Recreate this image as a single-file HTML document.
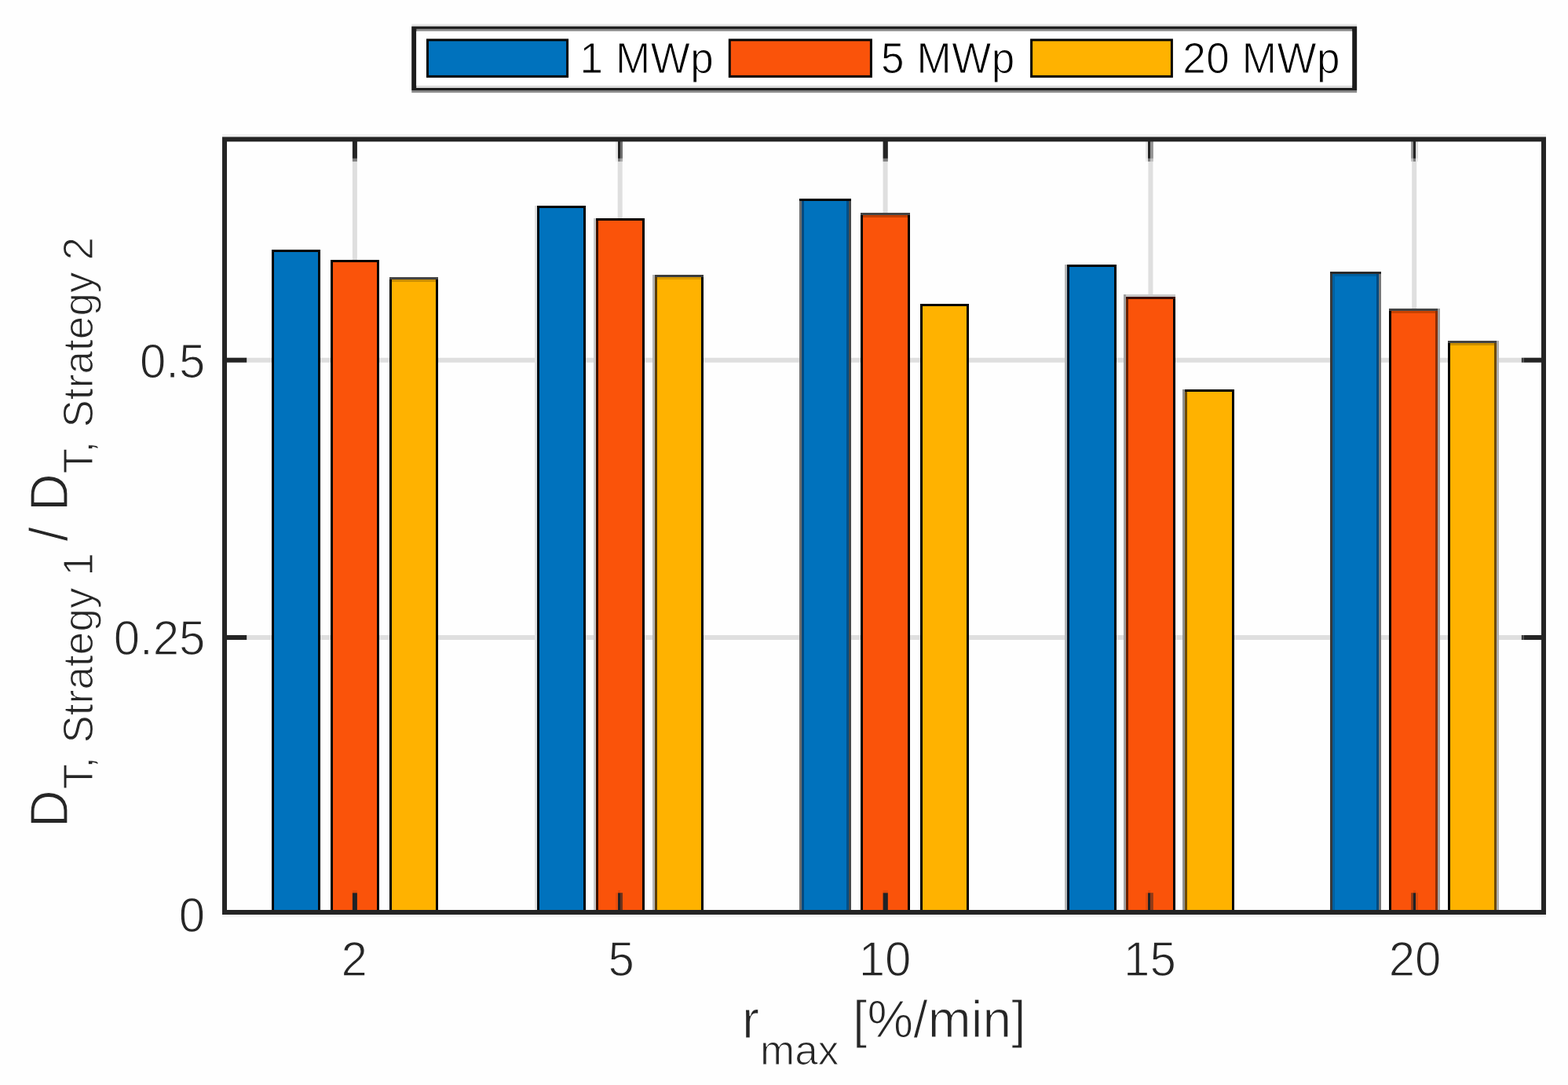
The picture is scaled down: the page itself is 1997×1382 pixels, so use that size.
<!DOCTYPE html>
<html lang="en">
<head>
<meta charset="utf-8">
<title>D_T Strategy 1 / D_T Strategy 2</title>
<style>
html,body{margin:0;padding:0;background:#fefefe;}
body{width:1997px;height:1382px;overflow:hidden;}
svg{display:block;}
text{font-family:"Liberation Sans",Arial,Helvetica,sans-serif;}
text{stroke:#fefefe;stroke-linejoin:round;}
.tk{font-size:60px;fill:#262626;stroke-width:1.2px;}
.lb{font-size:66px;fill:#262626;stroke-width:1.2px;letter-spacing:0.4px;}
.sb{font-size:53px;fill:#262626;stroke-width:1.1px;letter-spacing:0.1px;word-spacing:2.5px;}
.lg{font-size:53px;fill:#000000;stroke:#ffffff;stroke-width:1.0px;letter-spacing:0.6px;}
</style>
</head>
<body>
<svg width="1997" height="1382" viewBox="0 0 1997 1382">
<rect x="0" y="0" width="1997" height="1382" fill="#fefefe"/>
<rect x="283" y="171" width="1686" height="3.4" fill="#f0f0f0"/>
<rect x="283" y="1164.8" width="1686" height="3.4" fill="#f6f6f6"/>
<g stroke="#dfdfdf" stroke-width="6" fill="none">
<line x1="451.9" y1="177.4" x2="451.9" y2="1162.0"/>
<line x1="789.7" y1="177.4" x2="789.7" y2="1162.0"/>
<line x1="1127.6" y1="177.4" x2="1127.6" y2="1162.0"/>
<line x1="1465.4" y1="177.4" x2="1465.4" y2="1162.0"/>
<line x1="1801.2" y1="177.4" x2="1801.2" y2="1162.0"/>
<line x1="286.0" y1="458.7" x2="1966.0" y2="458.7"/>
<line x1="286.0" y1="812.0" x2="1966.0" y2="812.0"/>
</g>
<g>
<rect x="346" y="318" width="62" height="844" fill="#0072bd"/>
<rect x="346" y="318" width="3" height="844" fill="#000000"/>
<rect x="405" y="318" width="3" height="844" fill="#000000"/>
<rect x="346" y="318" width="62" height="3" fill="#000000"/>
</g>
<g>
<rect x="421" y="331" width="62" height="831" fill="#fa530a"/>
<rect x="421" y="331" width="3" height="831" fill="#000000"/>
<rect x="480" y="331" width="3" height="831" fill="#000000"/>
<rect x="421" y="331" width="62" height="3" fill="#000000"/>
</g>
<g>
<rect x="496" y="353" width="62" height="809" fill="#ffb200"/>
<rect x="496" y="353" width="3" height="809" fill="#000000"/>
<rect x="555" y="353" width="3" height="809" fill="#000000"/>
<rect x="496" y="353" width="62" height="3" fill="#444444"/>
<rect x="499" y="356" width="56" height="3" fill="#cc8f00"/>
</g>
<g>
<rect x="684" y="262" width="62" height="900" fill="#0072bd"/>
<rect x="681" y="262" width="3" height="900" fill="#e2e2e2"/>
<rect x="684" y="262" width="3" height="900" fill="#000a14"/>
<rect x="743" y="262" width="3" height="900" fill="#000000"/>
<rect x="684" y="262" width="62" height="3" fill="#000000"/>
</g>
<g>
<rect x="759" y="278" width="62" height="884" fill="#fa530a"/>
<rect x="756" y="278" width="3" height="884" fill="#c8c8c8"/>
<rect x="759" y="278" width="3" height="884" fill="#3c1000"/>
<rect x="818" y="278" width="3" height="884" fill="#000000"/>
<rect x="759" y="278" width="62" height="3" fill="#000000"/>
</g>
<g>
<rect x="834" y="350" width="62" height="812" fill="#ffb200"/>
<rect x="831" y="350" width="3" height="812" fill="#b4b4b4"/>
<rect x="834" y="350" width="3" height="812" fill="#5a3c00"/>
<rect x="893" y="350" width="3" height="812" fill="#000000"/>
<rect x="834" y="350" width="62" height="3" fill="#3c3c3c"/>
<rect x="837" y="353" width="56" height="3" fill="#d89800"/>
</g>
<g>
<rect x="1021" y="253" width="60" height="909" fill="#0072bd"/>
<rect x="1018" y="253" width="3" height="909" fill="#6e6e6e"/>
<rect x="1021" y="253" width="3" height="909" fill="#004a80"/>
<rect x="1081" y="253" width="3" height="909" fill="#4a4a4a"/>
<rect x="1078" y="253" width="3" height="909" fill="#004f88"/>
<rect x="1018" y="253" width="66" height="3" fill="#000000"/>
</g>
<g>
<rect x="1096" y="271" width="63" height="891" fill="#fa530a"/>
<rect x="1096" y="271" width="3" height="891" fill="#000000"/>
<rect x="1156" y="271" width="3" height="891" fill="#000000"/>
<rect x="1096" y="271" width="63" height="3" fill="#444444"/>
<rect x="1099" y="274" width="57" height="3" fill="#c23e00"/>
</g>
<g>
<rect x="1172" y="387" width="62" height="775" fill="#ffb200"/>
<rect x="1172" y="387" width="3" height="775" fill="#000000"/>
<rect x="1231" y="387" width="3" height="775" fill="#000000"/>
<rect x="1172" y="387" width="62" height="3" fill="#000000"/>
</g>
<g>
<rect x="1359" y="337" width="63" height="825" fill="#0072bd"/>
<rect x="1356" y="337" width="3" height="825" fill="#b8b8b8"/>
<rect x="1359" y="337" width="3" height="825" fill="#001428"/>
<rect x="1419" y="337" width="3" height="825" fill="#000000"/>
<rect x="1359" y="337" width="63" height="3" fill="#000000"/>
</g>
<g>
<rect x="1434" y="378" width="63" height="784" fill="#fa530a"/>
<rect x="1431" y="375" width="3" height="787" fill="#a0a0a0"/>
<rect x="1434" y="375" width="3" height="787" fill="#6a2000"/>
<rect x="1494" y="375" width="3" height="787" fill="#000000"/>
<rect x="1434" y="375" width="63" height="3" fill="#c8c8c8"/>
<rect x="1434" y="378" width="63" height="3" fill="#3a0e00"/>
</g>
<g>
<rect x="1509" y="496" width="63" height="666" fill="#ffb200"/>
<rect x="1506" y="496" width="3" height="666" fill="#909090"/>
<rect x="1509" y="496" width="3" height="666" fill="#6e4a00"/>
<rect x="1569" y="496" width="3" height="666" fill="#000000"/>
<rect x="1509" y="496" width="63" height="3" fill="#000000"/>
</g>
<g>
<rect x="1697" y="346" width="59" height="816" fill="#0072bd"/>
<rect x="1694" y="346" width="3" height="816" fill="#3a3a3a"/>
<rect x="1697" y="346" width="3" height="816" fill="#0060a0"/>
<rect x="1756" y="346" width="3" height="816" fill="#787878"/>
<rect x="1753" y="346" width="3" height="816" fill="#004a80"/>
<rect x="1694" y="346" width="65" height="3" fill="#2a2a2a"/>
<rect x="1700" y="349" width="53" height="3" fill="#0060a0"/>
</g>
<g>
<rect x="1769" y="393" width="62" height="769" fill="#fa530a"/>
<rect x="1769" y="393" width="3" height="769" fill="#000000"/>
<rect x="1831" y="393" width="3" height="769" fill="#a0a0a0"/>
<rect x="1828" y="393" width="3" height="769" fill="#8c2e00"/>
<rect x="1769" y="393" width="62" height="3" fill="#444444"/>
<rect x="1772" y="396" width="56" height="3" fill="#c84200"/>
</g>
<g>
<rect x="1844" y="434" width="62" height="728" fill="#ffb200"/>
<rect x="1844" y="434" width="3" height="728" fill="#000000"/>
<rect x="1906" y="434" width="3" height="728" fill="#b0b0b0"/>
<rect x="1903" y="434" width="3" height="728" fill="#6e4a00"/>
<rect x="1844" y="434" width="62" height="3" fill="#444444"/>
<rect x="1847" y="437" width="56" height="3" fill="#cc8f00"/>
</g>
<g>
<rect x="448.9" y="177.4" width="6" height="24.5" fill="#242424"/>
<rect x="448.9" y="201.9" width="6" height="3.8" fill="#7b7b7b"/>
<rect x="448.9" y="1137.2" width="6" height="24.8" fill="#1e2226"/>
<rect x="448.9" y="1134.2" width="6" height="3" fill="#e04d0d"/>
<rect x="784" y="177.4" width="3" height="24.5" fill="#e8e8e8"/>
<rect x="784" y="201.9" width="3" height="3.8" fill="#f1f1f1"/>
<rect x="784" y="1137.2" width="3" height="24.8" fill="#e44e0d"/>
<rect x="787" y="177.4" width="3" height="24.5" fill="#242424"/>
<rect x="787" y="201.9" width="3" height="3.8" fill="#7b7b7b"/>
<rect x="787" y="1137.2" width="3" height="24.8" fill="#1e2226"/>
<rect x="787" y="1134.2" width="3" height="3" fill="#e04d0d"/>
<rect x="790" y="177.4" width="3" height="24.5" fill="#707070"/>
<rect x="790" y="201.9" width="3" height="3.8" fill="#a9a9a9"/>
<rect x="790" y="1137.2" width="3" height="24.8" fill="#6b331c"/>
<rect x="1124.6" y="177.4" width="6.2" height="24.5" fill="#242424"/>
<rect x="1124.6" y="201.9" width="6.2" height="3.8" fill="#7b7b7b"/>
<rect x="1124.6" y="1137.2" width="6.2" height="24.8" fill="#1e2226"/>
<rect x="1124.6" y="1134.2" width="6.2" height="3" fill="#e04d0d"/>
<rect x="1459" y="177.4" width="3" height="24.5" fill="#e4e4e4"/>
<rect x="1459" y="201.9" width="3" height="3.8" fill="#eeeeee"/>
<rect x="1459" y="1137.2" width="3" height="24.8" fill="#e04d0d"/>
<rect x="1462" y="177.4" width="3.2" height="24.5" fill="#242424"/>
<rect x="1462" y="201.9" width="3.2" height="3.8" fill="#7b7b7b"/>
<rect x="1462" y="1137.2" width="3.2" height="24.8" fill="#1e2226"/>
<rect x="1462" y="1134.2" width="3.2" height="3" fill="#e04d0d"/>
<rect x="1465.2" y="177.4" width="3.6" height="24.5" fill="#919191"/>
<rect x="1465.2" y="201.9" width="3.6" height="3.8" fill="#bdbdbd"/>
<rect x="1465.2" y="1137.2" width="3.6" height="24.8" fill="#8c3a18"/>
<rect x="1797.2" y="177.4" width="2.8" height="24.5" fill="#919191"/>
<rect x="1797.2" y="201.9" width="2.8" height="3.8" fill="#bdbdbd"/>
<rect x="1797.2" y="1137.2" width="2.8" height="24.8" fill="#8c3a18"/>
<rect x="1800" y="177.4" width="3.2" height="24.5" fill="#242424"/>
<rect x="1800" y="201.9" width="3.2" height="3.8" fill="#7b7b7b"/>
<rect x="1800" y="1137.2" width="3.2" height="24.8" fill="#1e2226"/>
<rect x="1800" y="1134.2" width="3.2" height="3" fill="#e04d0d"/>
<rect x="1803.2" y="177.4" width="2.8" height="24.5" fill="#dddddd"/>
<rect x="1803.2" y="201.9" width="2.8" height="3.8" fill="#eaeaea"/>
<rect x="1803.2" y="1137.2" width="2.8" height="24.8" fill="#d94c0e"/>
<rect x="286" y="455.7" width="28.2" height="6" fill="#242424"/>
<rect x="1940.6" y="455.7" width="25.4" height="6" fill="#242424"/>
<rect x="1937.8" y="455.7" width="2.8" height="6" fill="#3c3c3c"/>
<rect x="286" y="809" width="28.2" height="6" fill="#242424"/>
<rect x="1940.6" y="809" width="25.4" height="6" fill="#242424"/>
<rect x="1937.8" y="809" width="2.8" height="6" fill="#3c3c3c"/>
</g>
<rect x="286.0" y="177.4" width="1680.0" height="984.6" fill="none" stroke="#242424" stroke-width="6"/>
<text class="tk" transform="translate(451.1 1243.3) scale(1 1.060)" text-anchor="middle">2</text>
<text class="tk" transform="translate(791.1 1243.3) scale(1 1.060)" text-anchor="middle">5</text>
<text class="tk" transform="translate(1127.1 1243.3) scale(1 1.060)" text-anchor="middle">10</text>
<text class="tk" transform="translate(1464.4 1243.3) scale(1 1.060)" text-anchor="middle">15</text>
<text class="tk" transform="translate(1802.0 1243.3) scale(1 1.060)" text-anchor="middle">20</text>
<text class="tk" transform="translate(261.4 481.2) scale(1 1.025)" text-anchor="end">0.5</text>
<text class="tk" transform="translate(261.4 834.2) scale(1 1.060)" text-anchor="end">0.25</text>
<text class="tk" transform="translate(261.2 1187.4) scale(1 1.060)" text-anchor="end">0</text>
<text class="lb" transform="translate(945.0 1321.6) scale(1 1.040)">r</text>
<text class="sb" transform="translate(968.0 1355.8) scale(1 1.020)">max</text>
<text class="lb" transform="translate(1086.0 1321.4) scale(1 1.015)"><tspan letter-spacing="0.1">[%/min]</tspan></text>
<text class="lb" transform="translate(86.3 1054.0) rotate(-90) scale(1 1.040)">D</text>
<text class="sb" transform="translate(117.6 1005.3) rotate(-90) scale(1 1.020)">T, Strategy <tspan dx="-2.5">1</tspan></text>
<text class="lb" transform="translate(86.3 689.5) rotate(-90) scale(1 1.040)">/</text>
<text class="lb" transform="translate(86.3 651.0) rotate(-90) scale(1 1.040)">D</text>
<text class="sb" transform="translate(117.6 603.3) rotate(-90) scale(1 1.020)">T, Strategy <tspan dx="-2.5">2</tspan></text>
<rect x="524.3" y="30.6" width="1203.8" height="87.5" fill="#e6e6e6"/>
<rect x="524.3" y="33.7" width="1203.8" height="84.4" fill="#8c8c8c"/>
<rect x="524.3" y="33.7" width="1203.8" height="81.4" fill="#1c1c1c"/>
<rect x="530.3" y="36.8" width="1191.8" height="75.2" fill="#8c8c8c"/>
<rect x="530.3" y="39.8" width="1191.8" height="72.2" fill="#dcdcdc"/>
<rect x="530.3" y="39.8" width="1191.8" height="69.2" fill="#ffffff"/>
<g stroke="#050505" stroke-width="3">
<rect x="544.5" y="50.9" width="178.1" height="46.5" fill="#0072bd"/>
<rect x="929.3" y="50.9" width="180.1" height="46.5" fill="#fa530a"/>
<rect x="1313.6" y="50.9" width="178.8" height="46.5" fill="#ffb200"/>
</g>
<text class="lg" transform="translate(738.6 93.1) scale(1 1.040)">1 MWp</text>
<text class="lg" transform="translate(1122.0 93.1) scale(1 1.040)">5 MWp</text>
<text class="lg" transform="translate(1506.2 93.1) scale(1 1.040)">20 MWp</text>
</svg>
</body>
</html>
